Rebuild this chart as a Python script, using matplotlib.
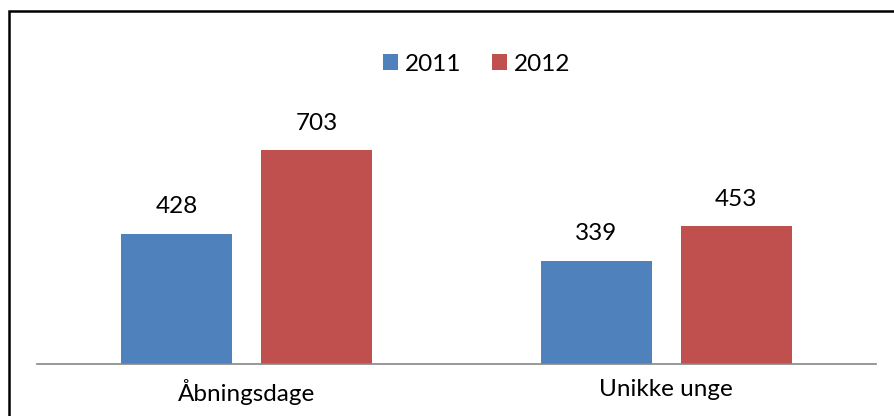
import matplotlib.pyplot as plt
import matplotlib.patches as mpatches
import numpy as np

plt.rcParams['font.family'] = ['Lato', 'DejaVu Sans']

categories = ['Åbningsdage', 'Unikke unge']
series = ['2011', '2012']
values_2011 = [428, 339]
values_2012 = [703, 453]
colors = ['#4F81BD', '#C0504D']

fig = plt.figure(figsize=(8.95, 4.16), dpi=100)
ax = fig.add_axes([37 / 895, 52 / 416, 839 / 895, 324 / 416])

x = np.arange(len(categories))
width = 0.265
offset = 0.167

for vals, off, col, lab in zip([values_2011, values_2012], [-offset, offset],
                                colors, series):
    bars = ax.bar(x + off, vals, width, color=col, label=lab, zorder=2)
    for b, v in zip(bars, vals):
        ax.annotate(str(v), (b.get_x() + b.get_width() / 2, v),
                    xytext=(0, 12), textcoords='offset points',
                    ha='center', va='bottom', fontsize=17.5, color='black')

ax.set_xlim(-0.5, 1.5)
ax.set_ylim(0, 1066)
ax.set_xticks(x)
ax.set_xticklabels(categories, fontsize=17.5)
ax.tick_params(axis='x', length=0, pad=11)
ax.set_yticks([])
for s in ['top', 'right', 'left']:
    ax.spines[s].set_visible(False)
ax.spines['bottom'].set_color('#868686')
ax.spines['bottom'].set_linewidth(1.2)

ax.legend(loc='upper center', bbox_to_anchor=(0.524, 1.025), ncol=2,
          frameon=False, fontsize=17.5, handlelength=0.62, handleheight=0.62,
          handletextpad=0.3, columnspacing=1.25)

# outer frame
frame = mpatches.Rectangle((9 / 895, -0.05), 1.0, (416 - 11) / 416 + 0.05,
                           transform=fig.transFigure, fill=False,
                           edgecolor='black', linewidth=1.8)
fig.patches.append(frame)

fig.savefig('out.png', dpi=100)
